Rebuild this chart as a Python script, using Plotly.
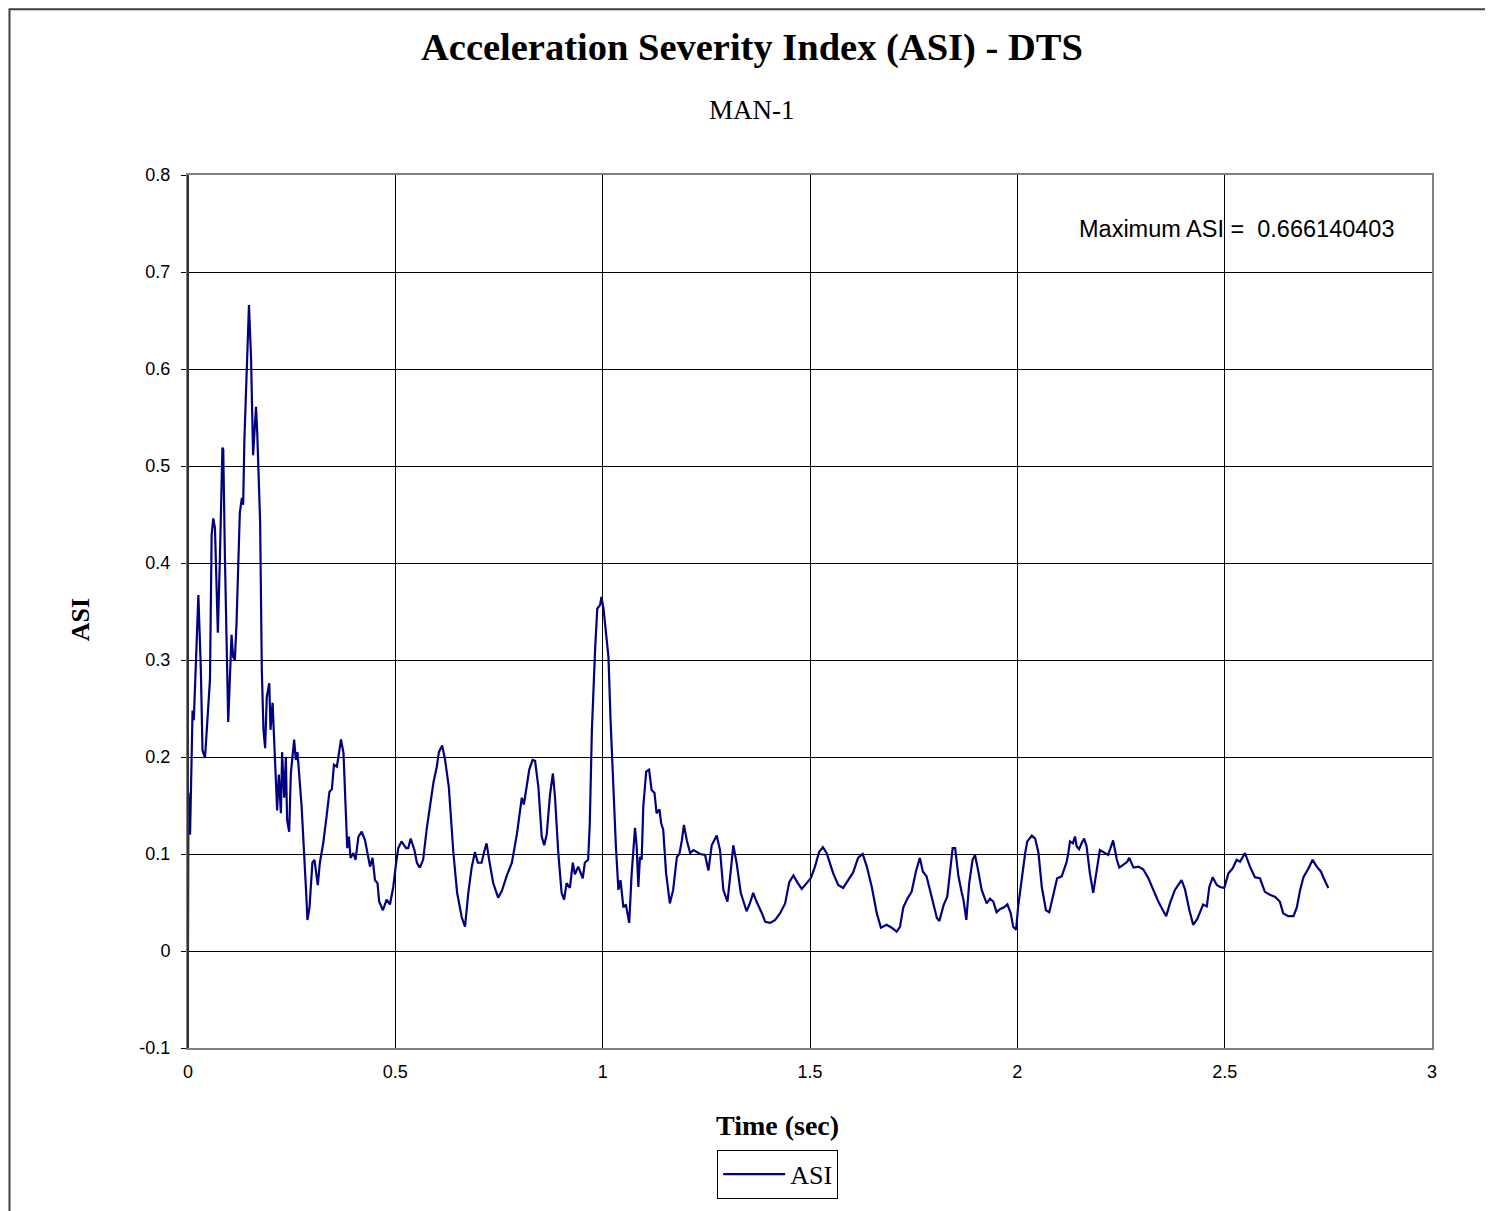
import plotly.graph_objects as go

# ASI trace (time in s, ASI)
time_s = [
    0.000, 0.001, 0.005, 0.011, 0.014, 0.019, 0.025, 0.031, 0.035, 0.041,
    0.047, 0.053, 0.057, 0.061, 0.065, 0.072, 0.077, 0.083, 0.085, 0.089,
    0.097, 0.105, 0.109, 0.113, 0.117, 0.125, 0.130, 0.133, 0.136, 0.142,
    0.147, 0.152, 0.157, 0.164, 0.167, 0.174, 0.178, 0.182, 0.186, 0.190,
    0.196, 0.199, 0.204, 0.207, 0.211, 0.215, 0.219, 0.224, 0.227, 0.232,
    0.236, 0.239, 0.244, 0.248, 0.256, 0.260, 0.264, 0.268, 0.274, 0.285,
    0.288, 0.293, 0.297, 0.300, 0.305, 0.309, 0.313, 0.318, 0.326, 0.334,
    0.341, 0.347, 0.352, 0.359, 0.364, 0.369, 0.375, 0.380, 0.384, 0.388,
    0.392, 0.399, 0.404, 0.411, 0.419, 0.427, 0.432, 0.439, 0.445, 0.451,
    0.457, 0.461, 0.470, 0.479, 0.487, 0.495, 0.502, 0.507, 0.515, 0.526,
    0.531, 0.537, 0.546, 0.552, 0.559, 0.567, 0.576, 0.584, 0.592, 0.600,
    0.605, 0.613, 0.620, 0.629, 0.640, 0.649, 0.660, 0.668, 0.676, 0.684,
    0.692, 0.699, 0.708, 0.714, 0.720, 0.727, 0.736, 0.748, 0.757, 0.769,
    0.781, 0.793, 0.801, 0.805, 0.810, 0.817, 0.823, 0.831, 0.837, 0.845,
    0.853, 0.859, 0.865, 0.873, 0.880, 0.885, 0.893, 0.901, 0.907, 0.913,
    0.921, 0.928, 0.933, 0.941, 0.952, 0.957, 0.965, 0.969, 0.974, 0.982,
    0.987, 0.994, 0.997, 1.002, 1.007, 1.014, 1.019, 1.026, 1.032, 1.038,
    1.043, 1.050, 1.056, 1.064, 1.070, 1.078, 1.082, 1.086, 1.090, 1.094,
    1.098, 1.105, 1.112, 1.118, 1.125, 1.130, 1.137, 1.141, 1.146, 1.153,
    1.162, 1.170, 1.179, 1.185, 1.191, 1.196, 1.203, 1.211, 1.219, 1.235,
    1.247, 1.255, 1.263, 1.275, 1.283, 1.291, 1.301, 1.309, 1.315, 1.323,
    1.333, 1.347, 1.355, 1.363, 1.371, 1.384, 1.392, 1.404, 1.416, 1.428,
    1.440, 1.450, 1.460, 1.469, 1.480, 1.492, 1.502, 1.512, 1.522, 1.531,
    1.540, 1.556, 1.568, 1.580, 1.592, 1.604, 1.616, 1.627, 1.637, 1.649,
    1.661, 1.671, 1.685, 1.697, 1.709, 1.717, 1.725, 1.735, 1.745, 1.756,
    1.765, 1.772, 1.781, 1.789, 1.797, 1.806, 1.812, 1.822, 1.831, 1.838,
    1.844, 1.850, 1.858, 1.866, 1.870, 1.877, 1.884, 1.892, 1.898, 1.906,
    1.914, 1.926, 1.934, 1.942, 1.950, 1.958, 1.968, 1.976, 1.984, 1.990,
    1.997, 2.002, 2.011, 2.019, 2.024, 2.035, 2.043, 2.051, 2.059, 2.069,
    2.077, 2.087, 2.096, 2.107, 2.119, 2.123, 2.127, 2.134, 2.139, 2.143,
    2.149, 2.155, 2.161, 2.167, 2.175, 2.183, 2.191, 2.199, 2.207, 2.219,
    2.223, 2.231, 2.240, 2.246, 2.256, 2.265, 2.270, 2.280, 2.292, 2.304,
    2.316, 2.328, 2.340, 2.351, 2.359, 2.368, 2.380, 2.396, 2.404, 2.415,
    2.424, 2.434, 2.441, 2.448, 2.457, 2.463, 2.471, 2.481, 2.489, 2.499,
    2.509, 2.519, 2.529, 2.537, 2.549, 2.561, 2.573, 2.585, 2.597, 2.609,
    2.621, 2.633, 2.641, 2.653, 2.666, 2.674, 2.682, 2.690, 2.702, 2.712,
    2.722, 2.732, 2.739, 2.750,
]
asi = [
    0.000, 0.163, 0.120, 0.248, 0.238, 0.295, 0.367, 0.290, 0.207, 0.199,
    0.240, 0.280, 0.429, 0.446, 0.436, 0.328, 0.406, 0.519, 0.517, 0.406,
    0.236, 0.326, 0.303, 0.300, 0.338, 0.452, 0.467, 0.460, 0.527, 0.612,
    0.666, 0.612, 0.511, 0.561, 0.534, 0.441, 0.290, 0.228, 0.209, 0.262,
    0.276, 0.228, 0.256, 0.225, 0.185, 0.145, 0.182, 0.142, 0.205, 0.158,
    0.199, 0.135, 0.123, 0.183, 0.218, 0.197, 0.205, 0.183, 0.149, 0.060,
    0.032, 0.045, 0.066, 0.091, 0.094, 0.080, 0.068, 0.091, 0.111, 0.138,
    0.164, 0.167, 0.192, 0.190, 0.204, 0.218, 0.204, 0.149, 0.106, 0.118,
    0.096, 0.101, 0.094, 0.118, 0.123, 0.114, 0.101, 0.087, 0.096, 0.073,
    0.070, 0.051, 0.042, 0.053, 0.048, 0.066, 0.091, 0.106, 0.113, 0.106,
    0.106, 0.116, 0.104, 0.091, 0.086, 0.094, 0.127, 0.149, 0.174, 0.190,
    0.205, 0.212, 0.197, 0.169, 0.101, 0.060, 0.035, 0.025, 0.060, 0.086,
    0.102, 0.091, 0.091, 0.102, 0.111, 0.092, 0.070, 0.055, 0.062, 0.078,
    0.091, 0.120, 0.142, 0.158, 0.151, 0.168, 0.187, 0.197, 0.196, 0.169,
    0.118, 0.109, 0.120, 0.161, 0.183, 0.159, 0.101, 0.060, 0.053, 0.070,
    0.065, 0.091, 0.079, 0.087, 0.075, 0.091, 0.094, 0.132, 0.228, 0.313,
    0.353, 0.357, 0.365, 0.353, 0.331, 0.303, 0.238, 0.159, 0.107, 0.063,
    0.073, 0.045, 0.048, 0.029, 0.080, 0.127, 0.108, 0.066, 0.097, 0.094,
    0.149, 0.185, 0.187, 0.166, 0.163, 0.142, 0.146, 0.132, 0.125, 0.080,
    0.049, 0.063, 0.097, 0.100, 0.114, 0.130, 0.114, 0.101, 0.104, 0.100,
    0.099, 0.083, 0.109, 0.119, 0.104, 0.063, 0.051, 0.083, 0.109, 0.091,
    0.060, 0.041, 0.049, 0.060, 0.051, 0.039, 0.030, 0.029, 0.032, 0.039,
    0.049, 0.071, 0.078, 0.071, 0.064, 0.070, 0.075, 0.087, 0.102, 0.107,
    0.101, 0.080, 0.068, 0.065, 0.073, 0.081, 0.096, 0.100, 0.087, 0.066,
    0.039, 0.024, 0.027, 0.024, 0.020, 0.025, 0.045, 0.054, 0.061, 0.083,
    0.096, 0.082, 0.077, 0.063, 0.047, 0.034, 0.031, 0.047, 0.056, 0.080,
    0.106, 0.106, 0.077, 0.060, 0.053, 0.032, 0.070, 0.094, 0.099, 0.082,
    0.063, 0.049, 0.054, 0.051, 0.040, 0.043, 0.045, 0.048, 0.039, 0.025,
    0.022, 0.046, 0.077, 0.101, 0.113, 0.119, 0.116, 0.101, 0.066, 0.042,
    0.040, 0.057, 0.075, 0.077, 0.092, 0.101, 0.113, 0.111, 0.118, 0.108,
    0.105, 0.111, 0.116, 0.108, 0.080, 0.060, 0.082, 0.104, 0.102, 0.099,
    0.104, 0.114, 0.094, 0.086, 0.089, 0.092, 0.096, 0.086, 0.087, 0.084,
    0.075, 0.063, 0.051, 0.042, 0.036, 0.049, 0.063, 0.073, 0.064, 0.042,
    0.027, 0.033, 0.040, 0.048, 0.046, 0.066, 0.076, 0.068, 0.066, 0.065,
    0.080, 0.085, 0.094, 0.092, 0.101, 0.087, 0.076, 0.075, 0.061, 0.058,
    0.056, 0.051, 0.039, 0.036, 0.036, 0.045, 0.063, 0.076, 0.085, 0.094,
    0.087, 0.082, 0.075, 0.065,
]
x_ticks = [0, 0.5, 1, 1.5, 2, 2.5, 3]
y_ticks = [-0.1, 0, 0.1, 0.2, 0.3, 0.4, 0.5, 0.6, 0.7, 0.8]
max_asi = "0.666140403"

serif = "Liberation Serif"
sans = "Liberation Sans"

fig = go.Figure()
fig.add_trace(go.Scatter(
    x=time_s, y=asi, mode="lines", name="ASI",
    line=dict(color="#000080", width=2.2),
))

# the page body has an 8px margin, so the figure is a bit smaller and shifted
fig.update_layout(
    width=1485, height=1203,
    margin=dict(l=180, r=61, t=167, b=163, autoexpand=False),
    paper_bgcolor="white", plot_bgcolor="white",
    showlegend=True,
    legend=dict(
        x=0.474, y=-0.1165, xanchor="center", yanchor="top",
        bordercolor="black", borderwidth=1,
        font=dict(family=serif, size=26, color="black"),
        itemwidth=62,
    ),
    xaxis=dict(
        range=[0, 3], tickvals=x_ticks, ticktext=[str(v) for v in x_ticks],
        showgrid=True, gridcolor="black", gridwidth=1,
        zeroline=False, showline=True, linecolor="#808080", linewidth=2,
        mirror=True, ticks="", ticklabelstandoff=6,
        tickfont=dict(family=sans, size=18, color="black"),
    ),
    yaxis=dict(
        range=[-0.1, 0.8], tickvals=y_ticks,
        ticktext=[f"{v:g}" for v in y_ticks],
        showgrid=True, gridcolor="black", gridwidth=1,
        zeroline=False, showline=True, linecolor="#808080", linewidth=2,
        mirror=True, ticks="outside", ticklen=5, tickcolor="black",
        ticklabelstandoff=7,
        tickfont=dict(family=sans, size=18, color="black"),
    ),
)

# left axis in black like the original
fig.add_shape(type="line", xref="paper", yref="paper", x0=0, x1=0, y0=0, y1=1,
              line=dict(color="#333333", width=2))

# outer chart frame
fig.add_shape(type="rect", xref="paper", yref="paper",
              x0=-0.1435, x1=1.2, y0=-0.4, y1=1.1900,
              line=dict(color="#404040", width=2))

fig.add_annotation(text="<b>Acceleration Severity Index (ASI) - DTS</b>",
                   xref="paper", yref="paper", x=0.4534, y=1.1455,
                   xanchor="center", yanchor="middle",
                   showarrow=False, font=dict(family=serif, size=38.5, color="black"))
fig.add_annotation(text="MAN-1", xref="paper", yref="paper", x=0.4534, y=1.0745,
                   xanchor="center", yanchor="middle",
                   showarrow=False, font=dict(family=serif, size=27, color="black"))
fig.add_annotation(text="<b>ASI</b>", xref="paper", yref="paper", x=-0.0868, y=0.49,
                   xanchor="center", yanchor="middle",
                   textangle=-90, showarrow=False,
                   font=dict(family=serif, size=26, color="black"))
fig.add_annotation(text="<b>Time (sec)</b>", xref="paper", yref="paper",
                   x=0.474, y=-0.0893, xanchor="center", yanchor="middle",
                   showarrow=False,
                   font=dict(family=serif, size=28, color="black"))
fig.add_annotation(text=f"Maximum ASI =  {max_asi}", xref="paper", yref="paper",
                   x=0.843, y=0.938, xanchor="center", yanchor="middle",
                   showarrow=False,
                   font=dict(family=sans, size=23.5, color="black"))

fig.write_html("out.html")
